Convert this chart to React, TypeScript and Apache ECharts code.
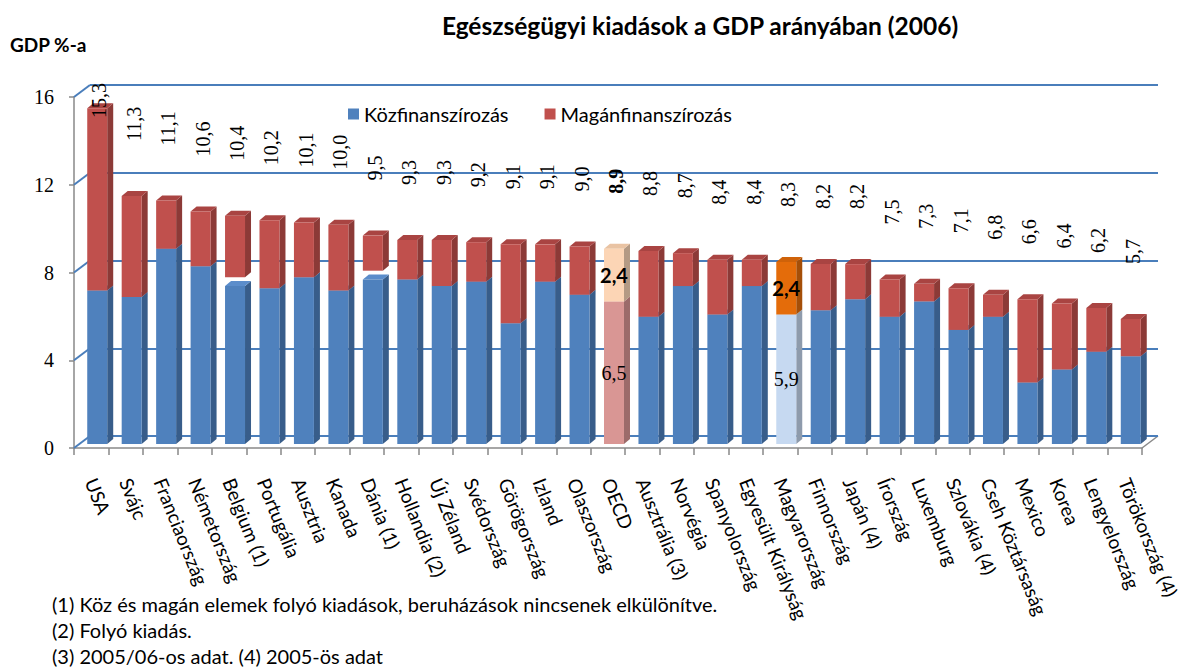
import React, { useEffect, useRef } from 'react';
import * as echarts from 'echarts';

const CATEGORIES = [
  'USA', 'Svájc', 'Franciaország', 'Németország', 'Belgium (1)', 'Portugália', 'Ausztria', 'Kanada',
  'Dánia (1)', 'Hollandia (2)', 'Új Zéland', 'Svédország', 'Görögország', 'Izland', 'Olaszország', 'OECD',
  'Ausztrália (3)', 'Norvégia', 'Spanyolország', 'Egyesült Királyság', 'Magyarország', 'Finnország',
  'Japán (4)', 'Írország', 'Luxemburg', 'Szlovákia (4)', 'Cseh Köztársaság', 'Mexico', 'Korea',
  'Lengyelország', 'Törökország (4)',
];
const TOTAL = [15.3, 11.3, 11.1, 10.6, 10.4, 10.2, 10.1, 10.0, 9.5, 9.3, 9.3, 9.2, 9.1, 9.1, 9.0, 8.9, 8.8, 8.7, 8.4, 8.4, 8.3, 8.2, 8.2, 7.5, 7.3, 7.1, 6.8, 6.6, 6.4, 6.2, 5.7];
const PUBLIC = [7.0, 6.7, 8.9, 8.1, 7.2, 7.1, 7.6, 7.0, 7.5, 7.5, 7.2, 7.4, 5.5, 7.4, 6.8, 6.5, 5.8, 7.2, 5.9, 7.2, 5.9, 6.1, 6.6, 5.8, 6.5, 5.2, 5.8, 2.8, 3.4, 4.2, 4.0];
const PRIVATE = [8.3, 4.6, 2.2, 2.5, 2.8, 3.1, 2.5, 3.0, 1.6, 1.8, 2.1, 1.8, 3.6, 1.7, 2.2, 2.4, 3.0, 1.5, 2.5, 1.2, 2.4, 2.1, 1.6, 1.7, 0.8, 1.9, 1.0, 3.8, 3.0, 2.0, 1.7];
const Y_TICKS = [0, 4, 8, 12, 16];
const SERIES_NAMES = ['Közfinanszírozás', 'Magánfinanszírozás'];
const TITLE = 'Egészségügyi kiadások a GDP arányában (2006)';
const Y_NAME = 'GDP %-a';
const FOOTNOTES = [
  '(1) Köz és magán elemek folyó kiadások, beruházások nincsenek elkülönítve.',
  '(2) Folyó kiadás.',
  '(3) 2005/06-os adat. (4) 2005-ös adat',
];
const LABELLED = ['OECD', 'Magyarország'];

// ---- layout / style ----
const FRONT = { left: 74, top: 97, width: 1068, height: 351 };
const DEPTH_X = 16;
const DEPTH_Y = 12;
const BACK = { left: FRONT.left + DEPTH_X, top: FRONT.top - DEPTH_Y, width: FRONT.width, height: FRONT.height };
const BARS = { left: FRONT.left + 6, top: FRONT.top - 4, width: FRONT.width, height: FRONT.height };
const BAR_DX = 6;
const BAR_DY = 5;
const BAR_RATIO = 0.58;
const SERIF = '"Liberation Serif", "Times New Roman", serif';
const SANS = 'Lato, "Noto Sans", sans-serif';
const GRID_BLUE = '#4A7EBB';
const AXIS_GRAY = '#898989';

type Face = { front: string; side: string; top: string };
const STYLE: Record<string, Face> = {
  pub: { front: '#4F81BD', side: '#385D8A', top: '#5B8DCB' },
  priv: { front: '#C0504D', side: '#8C3A37', top: '#A94442' },
};
const SPECIAL: Record<string, Record<string, Face>> = {
  OECD: {
    pub: { front: '#D99694', side: '#9C6B6A', top: '#E3A9A7' },
    priv: { front: '#FCD5B5', side: '#B49A84', top: '#E9C3A3' },
  },
  'Magyarország': {
    pub: { front: '#C6D9F1', side: '#8E9BAC', top: '#D5E3F5' },
    priv: { front: '#E46C0A', side: '#A54F08', top: '#CF6209' },
  },
};

const fmt = (v: number) => v.toFixed(1).replace('.', ',');

function makeSegmentRender(kind: 'pub' | 'priv') {
  return (params: any, api: any) => {
    const i = api.value(0);
    const lo = api.value(1);
    const hi = api.value(2);
    const val = api.value(3);
    const name = CATEGORIES[i];
    const pLo = api.coord([i, lo]);
    const pHi = api.coord([i, hi]);
    const w = api.size([1, 0])[0] * BAR_RATIO;
    const x0 = pLo[0] - w / 2;
    const x1 = x0 + w;
    const yB = pLo[1];
    const yT = pHi[1];
    const c = (SPECIAL[name] && SPECIAL[name][kind]) || STYLE[kind];
    const children: any[] = [
      {
        type: 'polygon',
        shape: { points: [[x1, yB], [x1 + BAR_DX, yB - BAR_DY], [x1 + BAR_DX, yT - BAR_DY], [x1, yT]] },
        style: { fill: c.side },
      },
      {
        type: 'polygon',
        shape: { points: [[x0, yT], [x1, yT], [x1 + BAR_DX, yT - BAR_DY], [x0 + BAR_DX, yT - BAR_DY]] },
        style: { fill: c.top },
      },
      {
        type: 'rect',
        shape: { x: x0, y: yT, width: w, height: yB - yT },
        style: { fill: c.front },
      },
    ];
    if (LABELLED.indexOf(name) >= 0) {
      children.push({
        type: 'text',
        x: (x0 + x1) / 2,
        y: (yT + yB) / 2,
        style: {
          text: fmt(val),
          align: 'center',
          verticalAlign: 'middle',
          font: kind === 'pub' ? `20px ${SERIF}` : `bold 20px ${SANS}`,
          fill: '#000',
        },
      });
    }
    return { type: 'group', children };
  };
}

function renderTotal(params: any, api: any) {
  const i = api.value(0);
  const t = api.value(1);
  const p = api.coord([i, t]);
  const txt = fmt(t);
  const fs = 20;
  const len = (txt.length - 1) * 0.5 * fs + 0.25 * fs;
  let yb = p[1] - 55;
  const minTop = params.coordSys.y - 10;
  if (yb - len < minTop) yb = minTop + len;
  return {
    type: 'text',
    x: p[0] + 2,
    y: yb,
    rotation: Math.PI / 2,
    style: {
      text: txt,
      align: 'left',
      verticalAlign: 'middle',
      font: `${CATEGORIES[i] === 'OECD' ? 'bold ' : ''}${fs}px ${SERIF}`,
      fill: '#000',
    },
  };
}

function renderWallEdge(params: any, api: any) {
  const v = api.value(1);
  const p = api.coord([0, v]);
  const x = params.coordSys.x;
  return {
    type: 'line',
    shape: { x1: x - DEPTH_X, y1: p[1] + DEPTH_Y, x2: x, y2: p[1] },
    style: { stroke: GRID_BLUE, lineWidth: 2 },
  };
}

export default function App() {
  const ref = useRef<HTMLDivElement>(null);
  useEffect(() => {
    if (!ref.current) return;
    const chart = echarts.init(ref.current, null, { renderer: 'svg' });
    const hiddenCat = (gridIndex: number) => ({
      type: 'category', gridIndex, data: CATEGORIES, show: false, boundaryGap: true,
    });
    const yBase = { type: 'value', min: 0, max: 16, interval: 4 };
    const option: any = {
      animation: false,
      backgroundColor: '#fff',
      grid: [
        { ...FRONT, containLabel: false },
        { ...BACK, containLabel: false },
        { ...BARS, containLabel: false },
      ],
      xAxis: [
        {
          type: 'category', gridIndex: 0, data: CATEGORIES, boundaryGap: true,
          axisLine: { show: true, lineStyle: { color: AXIS_GRAY, width: 1.5 } },
          axisTick: { show: true, interval: 0, length: 7, lineStyle: { color: AXIS_GRAY, width: 1.5 } },
          axisLabel: { interval: 0, rotate: -68, margin: 31, fontFamily: SANS, fontSize: 19, color: '#000' },
          splitLine: { show: false },
        },
        hiddenCat(1),
        hiddenCat(2),
      ],
      yAxis: [
        {
          ...yBase, gridIndex: 0,
          axisLine: { show: true, lineStyle: { color: AXIS_GRAY, width: 1.5 } },
          axisTick: { show: true, length: 5, lineStyle: { color: AXIS_GRAY, width: 1.5 } },
          axisLabel: { fontFamily: SERIF, fontSize: 20, color: '#000', margin: 20 },
          splitLine: { show: false },
        },
        {
          ...yBase, gridIndex: 1,
          axisLine: { show: false }, axisTick: { show: false }, axisLabel: { show: false },
          splitLine: { show: true, lineStyle: { color: GRID_BLUE, width: 2 } },
        },
        { ...yBase, gridIndex: 2, show: false, splitLine: { show: false } },
      ],
      legend: {
        data: SERIES_NAMES,
        left: 343, top: 99,
        icon: 'rect', itemWidth: 11, itemHeight: 11, itemGap: 36, itemStyle: {},
        textStyle: { fontFamily: SANS, fontSize: 20, color: '#000' },
        selectedMode: false,
      },
      series: [
        {
          type: 'custom', name: 'wall', xAxisIndex: 1, yAxisIndex: 1, silent: true, z: 1,
          data: Y_TICKS.map((v) => [0, v]), encode: { x: 0, y: 1 },
          renderItem: renderWallEdge,
        },
        {
          type: 'custom', name: SERIES_NAMES[0], xAxisIndex: 2, yAxisIndex: 2, z: 3,
          itemStyle: { color: STYLE.pub.front },
          data: CATEGORIES.map((_, i) => [i, 0, PUBLIC[i], PUBLIC[i]]),
          encode: { x: 0, y: [1, 2] },
          renderItem: makeSegmentRender('pub'),
        },
        {
          type: 'custom', name: SERIES_NAMES[1], xAxisIndex: 2, yAxisIndex: 2, z: 4,
          itemStyle: { color: STYLE.priv.front },
          data: CATEGORIES.map((_, i) => [i, TOTAL[i] - PRIVATE[i], TOTAL[i], PRIVATE[i]]),
          encode: { x: 0, y: [1, 2] },
          renderItem: makeSegmentRender('priv'),
        },
        {
          type: 'custom', name: 'Összesen', xAxisIndex: 2, yAxisIndex: 2, z: 5, silent: true,
          data: TOTAL.map((t, i) => [i, t]), encode: { x: 0, y: 1 },
          renderItem: renderTotal,
        },
      ],
      graphic: [
        {
          type: 'text', x: 700, y: 25,
          style: { text: TITLE, align: 'center', verticalAlign: 'middle', font: `bold 24.5px ${SANS}`, fill: '#000' },
        },
        {
          type: 'text', x: 10, y: 44,
          style: { text: Y_NAME, align: 'left', verticalAlign: 'middle', font: `bold 19px ${SANS}`, fill: '#000' },
        },
        {
          type: 'line',
          shape: {
            x1: FRONT.left + FRONT.width, y1: FRONT.top + FRONT.height,
            x2: FRONT.left + FRONT.width + DEPTH_X, y2: FRONT.top + FRONT.height - DEPTH_Y,
          },
          style: { stroke: AXIS_GRAY, lineWidth: 1.5 },
        },
        ...FOOTNOTES.map((t, k) => ({
          type: 'text', x: 52, y: 604 + k * 26,
          style: { text: t, align: 'left', verticalAlign: 'middle', font: `20px ${SANS}`, fill: '#000' },
        })),
      ],
    };
    chart.setOption(option);
    return () => chart.dispose();
  }, []);
  return <div ref={ref} style={{ position: 'fixed', left: 0, top: 0, width: 1194, height: 668 }} />;
}
